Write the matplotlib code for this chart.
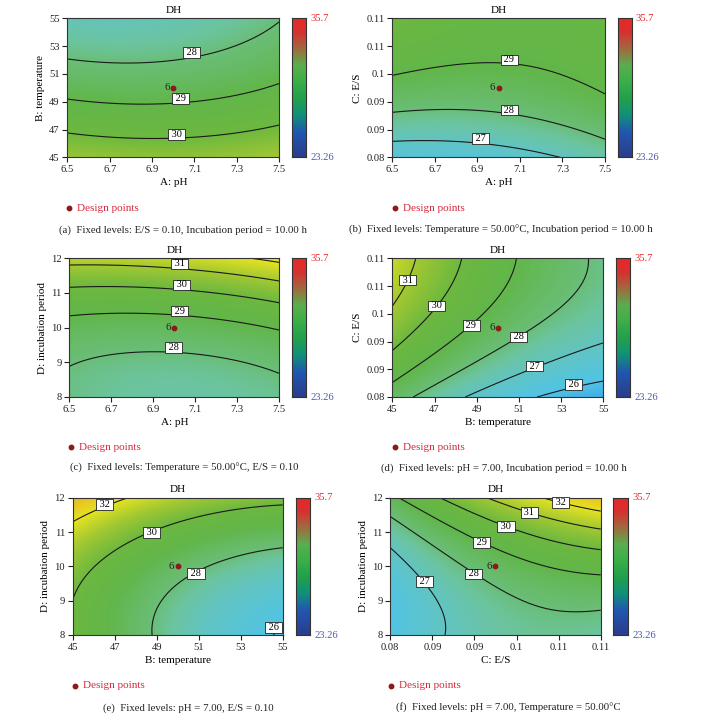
import numpy as np
import matplotlib
matplotlib.use('Agg')
import matplotlib.pyplot as plt
from matplotlib.colors import LinearSegmentedColormap
from matplotlib.lines import Line2D

plt.rcParams['font.family'] = ['Liberation Serif', 'DejaVu Serif']

# DH colour range shown on every colour bar
dh_min, dh_max = 23.26, 35.7

# contour readings taken off the six panels: (x, y, DH level)
# (a) A: pH  vs  B: temperature
a_x = [6.5, 6.7, 6.9, 7.1, 7.3, 7.4, 7.5, 6.5, 6.7, 6.9, 7.1, 7.3, 7.5, 6.5, 6.7, 6.9, 7.1, 7.3, 7.5]
a_y = [52.06, 51.82, 51.87, 52.25, 52.98, 53.75, 54.78, 49.19, 48.90, 48.77, 49.02, 49.50, 50.33,
       46.76, 46.47, 46.33, 46.47, 46.76, 47.31]
a_z = [28, 28, 28, 28, 28, 28, 28, 29, 29, 29, 29, 29, 29, 30, 30, 30, 30, 30, 30]

# (b) A: pH  vs  C: E/S
b_x = [6.5, 6.7, 6.9, 7.1, 7.3, 7.5, 6.5, 6.7, 6.9, 7.1, 7.3, 7.5, 6.5, 6.7, 6.9, 7.1, 7.28]
b_y = [0.0979, 0.0992, 0.1003, 0.1001, 0.0978, 0.0935, 0.0896, 0.0902, 0.0901, 0.0891, 0.0872, 0.0839,
       0.0836, 0.0835, 0.0830, 0.0819, 0.0800]
b_z = [29, 29, 29, 29, 29, 29, 28, 28, 28, 28, 28, 28, 27, 27, 27, 27, 27]

# (c) A: pH  vs  D: incubation period
c_x = [7.39, 7.5, 6.5, 6.7, 6.9, 7.1, 7.3, 7.5, 6.5, 6.7, 6.9, 7.1, 7.3, 7.5,
       6.5, 6.7, 6.9, 7.1, 7.3, 7.5, 6.5, 6.7, 6.9, 7.1, 7.3, 7.5]
c_y = [12.0, 11.88, 11.83, 11.78, 11.72, 11.63, 11.52, 11.35, 11.17, 11.18, 11.16, 11.11, 10.92, 10.70,
       10.34, 10.40, 10.41, 10.35, 10.17, 9.90, 8.90, 9.18, 9.30, 9.26, 9.05, 8.68]
c_z = [32, 32, 31, 31, 31, 31, 31, 31, 30, 30, 30, 30, 30, 30,
       29, 29, 29, 29, 29, 29, 28, 28, 28, 28, 28, 28]

# (d) B: temperature  vs  C: E/S
d_x = [45, 45.71, 46.08, 45, 46.39, 47.11, 48.33, 45, 47.19, 48.74, 50.04, 50.94,
       45.92, 48.77, 50.99, 53.05, 54.27, 48.61, 51.75, 55, 52.29, 53.6, 55]
d_y = [0.0993, 0.1053, 0.11, 0.0899, 0.0957, 0.0997, 0.11, 0.0834, 0.0899, 0.0955, 0.1028, 0.11,
       0.08, 0.0872, 0.093, 0.0992, 0.11, 0.08, 0.0867, 0.0916, 0.08, 0.0827, 0.0834]
d_z = [31, 31, 31, 30, 30, 30, 30, 29, 29, 29, 29, 29,
       28, 28, 28, 28, 28, 27, 27, 27, 26, 26, 26]

# (e) B: temperature  vs  D: incubation period
e_x = [45, 46.51, 48.05, 45, 46.3, 48.76, 51.06, 52.65, 55, 48.76, 49.32, 50.87, 52.65, 55, 54.52, 55]
e_y = [11.27, 11.81, 12, 9.0, 10.19, 11.0, 11.5, 11.66, 11.76, 8, 9.03, 9.81, 10.29, 10.56, 8, 8.25]
e_z = [32, 32, 32, 30, 30, 30, 30, 30, 30, 28, 28, 28, 28, 28, 26, 26]

# (f) C: E/S  vs  D: incubation period
f_x = [0.1016, 0.1043, 0.11, 0.0937, 0.0998, 0.1054, 0.11, 0.0873, 0.0965, 0.1035, 0.11,
       0.0811, 0.093, 0.1011, 0.11, 0.08, 0.0919, 0.0964, 0.1016, 0.1059, 0.11,
       0.08, 0.0849, 0.0868, 0.0878]
f_y = [12, 11.86, 11.61, 12, 11.56, 11.25, 11.08, 12, 11.16, 10.77, 10.48,
       12, 10.69, 10.09, 9.74, 11.45, 9.78, 9.22, 8.83, 8.67, 8.72,
       10.55, 9.55, 8.93, 8]
f_z = [32, 32, 32, 31, 31, 31, 31, 30, 30, 30, 30,
       29, 29, 29, 29, 28, 28, 28, 28, 28, 28, 27, 27, 27, 27]

# contour levels drawn in each panel
a_levels = [28, 29, 30]
b_levels = [27, 28, 29]
c_levels = [28, 29, 30, 31, 32]
d_levels = [26, 27, 28, 29, 30, 31]
e_levels = [26, 28, 30, 32]
f_levels = [27, 28, 29, 30, 31, 32]

# factor axes: (low, high, centre, tick values, tick labels, axis title)
ph_ticks = [6.5, 6.7, 6.9, 7.1, 7.3, 7.5]
ph_labels = ['6.5', '6.7', '6.9', '7.1', '7.3', '7.5']
temp_ticks = [45, 47, 49, 51, 53, 55]
temp_labels = ['45', '47', '49', '51', '53', '55']
es_ticks = [0.08, 0.086, 0.092, 0.098, 0.104, 0.11]
es_labels = ['0.08', '0.09', '0.09', '0.1', '0.11', '0.11']
time_ticks = [8, 9, 10, 11, 12]
time_labels = ['8', '9', '10', '11', '12']

PH = (6.5, 7.5, 7.0, ph_ticks, ph_labels, 'A: pH')
TEMP = (45, 55, 50, temp_ticks, temp_labels, 'B: temperature')
ES = (0.08, 0.11, 0.095, es_ticks, es_labels, 'C: E/S')
TIME = (8, 12, 10, time_ticks, time_labels, 'D: incubation period')

captions = [
    '(a)  Fixed levels: E/S = 0.10, Incubation period = 10.00 h',
    '(b)  Fixed levels: Temperature = 50.00\u00b0C, Incubation period = 10.00 h',
    '(c)  Fixed levels: Temperature = 50.00\u00b0C, E/S = 0.10',
    '(d)  Fixed levels: pH = 7.00, Incubation period = 10.00 h',
    '(e)  Fixed levels: pH = 7.00, E/S = 0.10',
    '(f)  Fixed levels: pH = 7.00, Temperature = 50.00\u00b0C',
]

# where the contour label boxes sit (data coords), keyed by level
a_lab = {28: (7.086, 52.54), 29: (7.035, 49.24), 30: (7.016, 46.66)}
b_lab = {29: (7.049, 0.1010), 28: (7.049, 0.0902), 27: (6.914, 0.0840)}
c_lab = {31: (7.024, 11.84), 30: (7.035, 11.23), 29: (7.024, 10.48), 28: (6.997, 9.42)}
d_lab = {31: (45.71, 0.1053), 30: (47.11, 0.0997), 29: (48.74, 0.0955), 28: (50.99, 0.0930),
         27: (51.75, 0.0867), 26: (53.6, 0.0827)}
e_lab = {32: (46.51, 11.80), 30: (48.76, 10.98), 28: (50.87, 9.80), 26: (54.55, 8.22)}
f_lab = {32: (0.1043, 11.86), 31: (0.0998, 11.56), 30: (0.0965, 11.16), 29: (0.0930, 10.69),
         28: (0.0919, 9.78), 27: (0.0849, 9.55)}

# layout in pixels: axes (left, right, top, bottom), colour bar (left, right),
# legend dot (x, y), caption (x, y)
W, H = 715, 719
layout = [
    ((67.3, 279.3, 18.3, 157.3), (291.7, 306.0), (69.0, 208.3), (59.0, 230.0)),
    ((392.3, 605.0, 18.3, 157.3), (617.7, 631.7), (395.3, 208.3), (349.0, 230.0)),
    ((69.3, 279.3, 258.3, 397.0), (291.7, 306.0), (71.0, 447.3), (69.7, 468.3)),
    ((392.3, 603.3, 258.3, 397.0), (615.7, 630.0), (395.3, 447.3), (381.0, 468.3)),
    ((72.7, 282.7, 497.7, 635.0), (295.7, 310.0), (74.7, 686.0), (103.0, 707.7)),
    ((390.3, 600.7, 497.7, 635.0), (613.3, 627.7), (391.0, 686.0), (395.7, 707.7)),
]

panels = [
    (PH, TEMP, a_x, a_y, a_z, a_levels, a_lab),
    (PH, ES, b_x, b_y, b_z, b_levels, b_lab),
    (PH, TIME, c_x, c_y, c_z, c_levels, c_lab),
    (TEMP, ES, d_x, d_y, d_z, d_levels, d_lab),
    (TEMP, TIME, e_x, e_y, e_z, e_levels, e_lab),
    (ES, TIME, f_x, f_y, f_z, f_levels, f_lab),
]

surf_cmap = LinearSegmentedColormap.from_list('dh', [
    (0.00, '#2a3fb0'), (0.12, '#2f90e0'), (0.22, '#50c4e6'), (0.30, '#62c4c2'),
    (0.35, '#6cc49e'), (0.38, '#6abe78'), (0.46, '#62b64a'), (0.54, '#6cb840'),
    (0.62, '#a2c832'), (0.70, '#e4e222'), (0.84, '#f0a020'), (1.00, '#e02020')])
bar_cmap = LinearSegmentedColormap.from_list('bar', [
    (0.00, '#2c3c8c'), (0.18, '#2058b0'), (0.30, '#10907a'), (0.42, '#22a04c'),
    (0.55, '#3cb048'), (0.66, '#5aae4e'), (0.78, '#a06a40'), (0.90, '#d83030'),
    (1.00, '#e82828')])


def rect(l, r, t, b):
    return [l / W, 1 - b / H, (r - l) / W, (b - t) / H]


def coded(x, y, xf, yf):
    u = (np.asarray(x, float) - xf[2]) / (xf[1] - xf[2])
    v = (np.asarray(y, float) - yf[2]) / (yf[1] - yf[2])
    return u, v


def basis(u, v):
    return np.stack([np.ones_like(u), u, v, u * u, v * v, u * v, u * u * v, u * v * v], axis=-1)


def fit_surface(x, y, z, xf, yf):
    # smooth response surface, refitted with weights so that the
    # contour positions (not just the DH values) are matched
    u, v = coded(x, y, xf, yf)
    z = np.asarray(z, float)
    m = basis(u, v)
    w = np.ones_like(u)
    h = 1e-4
    for _ in range(20):
        coef, *_ = np.linalg.lstsq(m * w[:, None], z * w, rcond=None)
        gu = (basis(u + h, v) - basis(u - h, v)) @ coef / (2 * h) / 1.5
        gv = (basis(u, v + h) - basis(u, v - h)) @ coef / (2 * h)
        w = 1 / np.sqrt(gu ** 2 + gv ** 2 + 0.004)
    return coef


fig = plt.figure(figsize=(W / 100, H / 100), dpi=100)

for (xf, yf, px, py, pz, levels, labpos), (box, cbar, leg, cap) in zip(panels, layout):
    coef = fit_surface(px, py, pz, xf, yf)
    gx = np.linspace(xf[0], xf[1], 300)
    gy = np.linspace(yf[0], yf[1], 300)
    X, Y = np.meshgrid(gx, gy)
    U, V = coded(X, Y, xf, yf)
    Z = basis(U, V) @ coef

    ax = fig.add_axes(rect(*box))
    ax.imshow(Z, extent=[xf[0], xf[1], yf[0], yf[1]], origin='lower', aspect='auto',
              cmap=surf_cmap, vmin=dh_min, vmax=dh_max, interpolation='bilinear')
    ax.contour(X, Y, Z, levels=levels, colors='#1a1a1a', linewidths=0.8)
    for lev, (lx, ly) in labpos.items():
        ax.text(lx, ly, ' %d ' % lev, ha='center', va='center', fontsize=7.4, zorder=5,
                bbox=dict(boxstyle='square,pad=0.08', facecolor='white',
                          edgecolor='#222222', linewidth=0.6))

    # centre design point (6 replicates)
    ax.plot([xf[2]], [yf[2]], 'o', color='#8b1a1a', markersize=3.2, zorder=6)
    ax.text(xf[2], yf[2], '6 ', ha='right', va='center', fontsize=7.8, color='#222222', zorder=6)

    ax.set_xlim(xf[0], xf[1])
    ax.set_ylim(yf[0], yf[1])
    ax.set_xticks(xf[3])
    ax.set_xticklabels(xf[4])
    ax.set_yticks(yf[3])
    ax.set_yticklabels(yf[4])
    ax.tick_params(direction='out', length=3.5, width=0.8, labelsize=7.6, pad=2, colors='#222222')
    for s in ax.spines.values():
        s.set_linewidth(0.8)
        s.set_color('#333333')
    ax.set_xlabel(xf[5], fontsize=8, labelpad=3)
    ax.set_ylabel(yf[5], fontsize=8, labelpad=3)
    ax.set_title('DH', fontsize=8, pad=4)

    cax = fig.add_axes(rect(cbar[0], cbar[1], box[2], box[3]))
    cax.imshow(np.linspace(0, 1, 256)[:, None], extent=[0, 1, 0, 1], origin='lower',
               aspect='auto', cmap=bar_cmap)
    cax.set_xticks([])
    cax.set_yticks([])
    for s in cax.spines.values():
        s.set_linewidth(0.8)
        s.set_color('#333333')
    cax.text(1.3, 1.0, '%.1f' % dh_max, transform=cax.transAxes, ha='left', va='center',
             fontsize=7.6, color='#e02828')
    cax.text(1.3, 0.0, '%.2f' % dh_min, transform=cax.transAxes, ha='left', va='center',
             fontsize=7.6, color='#4a58a8')

    fig.add_artist(Line2D([leg[0] / W], [1 - leg[1] / H], marker='o', color='#8b1a1a',
                          markersize=3.2, transform=fig.transFigure))
    fig.text((leg[0] + 8) / W, 1 - leg[1] / H, 'Design points', ha='left', va='center',
             fontsize=8, color='#d8283c')

for (box, cbar, leg, cap), txt in zip(layout, captions):
    fig.text(cap[0] / W, 1 - cap[1] / H, txt, ha='left', va='center', fontsize=7.75, color='#222222')

fig.savefig('out.png', dpi=100)
